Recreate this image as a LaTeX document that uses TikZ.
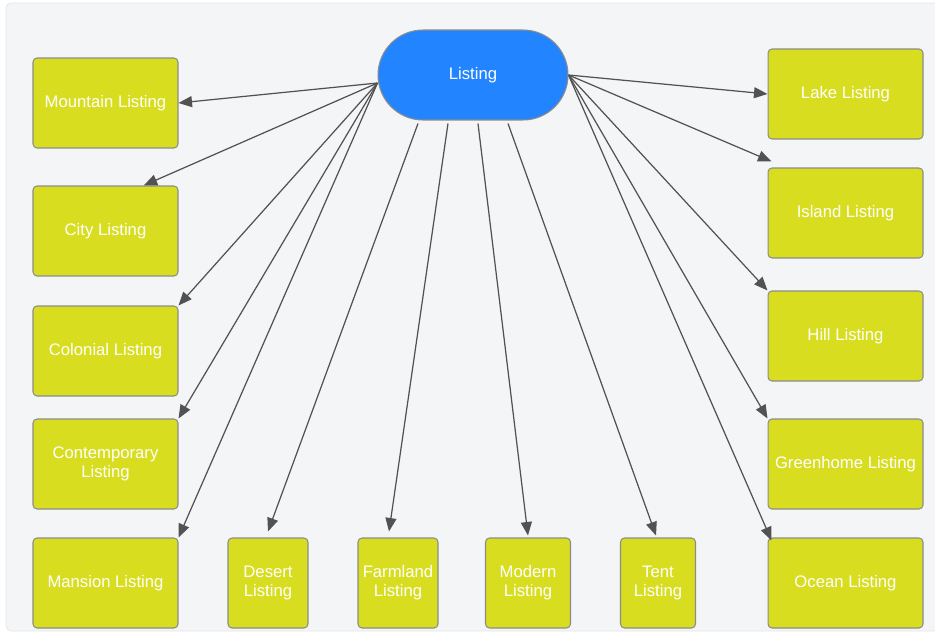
\documentclass[tikz,border=0pt]{standalone}
\usepackage{fontspec}
\setmainfont{Liberation Sans}
\usetikzlibrary{calc,arrows.meta,shapes.misc}
\definecolor{panel}{HTML}{F4F5F7}
\definecolor{panelline}{HTML}{E4E5E7}
\definecolor{listblue}{HTML}{2384FF}
\definecolor{listgreen}{HTML}{D8DE1F}
\definecolor{boxline}{HTML}{8C8C8C}
\definecolor{linkgrey}{HTML}{525252}

\begin{document}
\begin{tikzpicture}[x=0.02cm,y=-0.02cm,font=\fontsize{9.5}{11}\selectfont]

\tikzset{listnode/.style={shape=rectangle,rounded corners=0.8mm,fill=listgreen,draw=boxline,line width=0.6pt,text=white,align=center,minimum height=1.8cm,inner sep=0pt},
sidenode/.style={listnode,minimum width=2.9cm},
rightnode/.style={listnode,minimum width=3.1cm},
rootnode/.style={shape=rounded rectangle,fill=listblue,draw=boxline,line width=0.6pt,text=white,minimum width=3.8cm,minimum height=1.8cm,inner sep=0pt},
link/.style={draw=linkgrey,line width=0.7pt,-{Triangle[length=2.7mm,width=2.2mm]}}}

% Canvas
\useasboundingbox (0,0) rectangle (935,636);
\draw[fill=panel,draw=panelline,rounded corners=1mm] (6,3) rectangle (960,631);

% Root node
\node[rootnode] (listing) at (473,75) {Listing};

% Left listing nodes
\node[sidenode] (mountain) at (105.5,103) {Mountain Listing};
\node[sidenode] (city) at (105.5,231) {City Listing};
\node[sidenode] (colonial) at (105.5,351) {Colonial Listing};
\node[sidenode] (contemporary) at (105.5,464) {Contemporary\\Listing};
\node[sidenode] (mansion) at (105.5,583) {Mansion Listing};

% Bottom listing nodes
\node[listnode,minimum width=1.6cm] (desert) at (268,583) {Desert\\Listing};
\node[listnode,minimum width=1.6cm] (farmland) at (398,583) {Farmland\\Listing};
\node[listnode,minimum width=1.7cm] (modern) at (528,583) {Modern\\Listing};
\node[listnode,minimum width=1.5cm] (tent) at (658,583) {Tent\\Listing};

% Right listing nodes
\node[rightnode] (lake) at (845.5,94) {Lake Listing};
\node[rightnode] (island) at (845.5,213) {Island Listing};
\node[rightnode] (hill) at (845.5,336) {Hill Listing};
\node[rightnode] (greenhome) at (845.5,464) {Greenhome Listing};
\node[rightnode] (ocean) at (845.5,583) {Ocean Listing};

% Edge sources on the root
\coordinate (lsrc) at ($(listing.west)+(0,8)$);
\coordinate (rsrc) at (listing.east);
\coordinate (bsrc1) at ($(listing.south)+(-55,3)$);
\coordinate (bsrc2) at ($(listing.south)+(-25,3)$);
\coordinate (bsrc3) at ($(listing.south)+(5,3)$);
\coordinate (bsrc4) at ($(listing.south)+(35,3)$);

% Edges
\draw[link] (lsrc) -- (mountain.east); \draw[link] (lsrc) -- (city.50); \draw[link] (lsrc) -- (colonial.north east); \draw[link] (lsrc) -- (contemporary.north east); \draw[link] (lsrc) -- (mansion.north east); % left
\draw[link] (bsrc1) -- ($(desert.north)+(0,-6)$); \draw[link] (bsrc2) -- ($(farmland.north)+(-9,-6)$); \draw[link] (bsrc3) -- ($(modern.north)+(0,-2)$); \draw[link] (bsrc4) -- ($(tent.north)+(-2,-2)$); % bottom
\draw[link] (rsrc) -- (lake.west); \draw[link] (rsrc) -- ($(island.north west)+(4,-6)$); \draw[link] (rsrc) -- (hill.north west); \draw[link] (rsrc) -- (greenhome.north west); \draw[link] (rsrc) -- ($(ocean.north west)+(4,3)$); % right

\end{tikzpicture}
\end{document}
